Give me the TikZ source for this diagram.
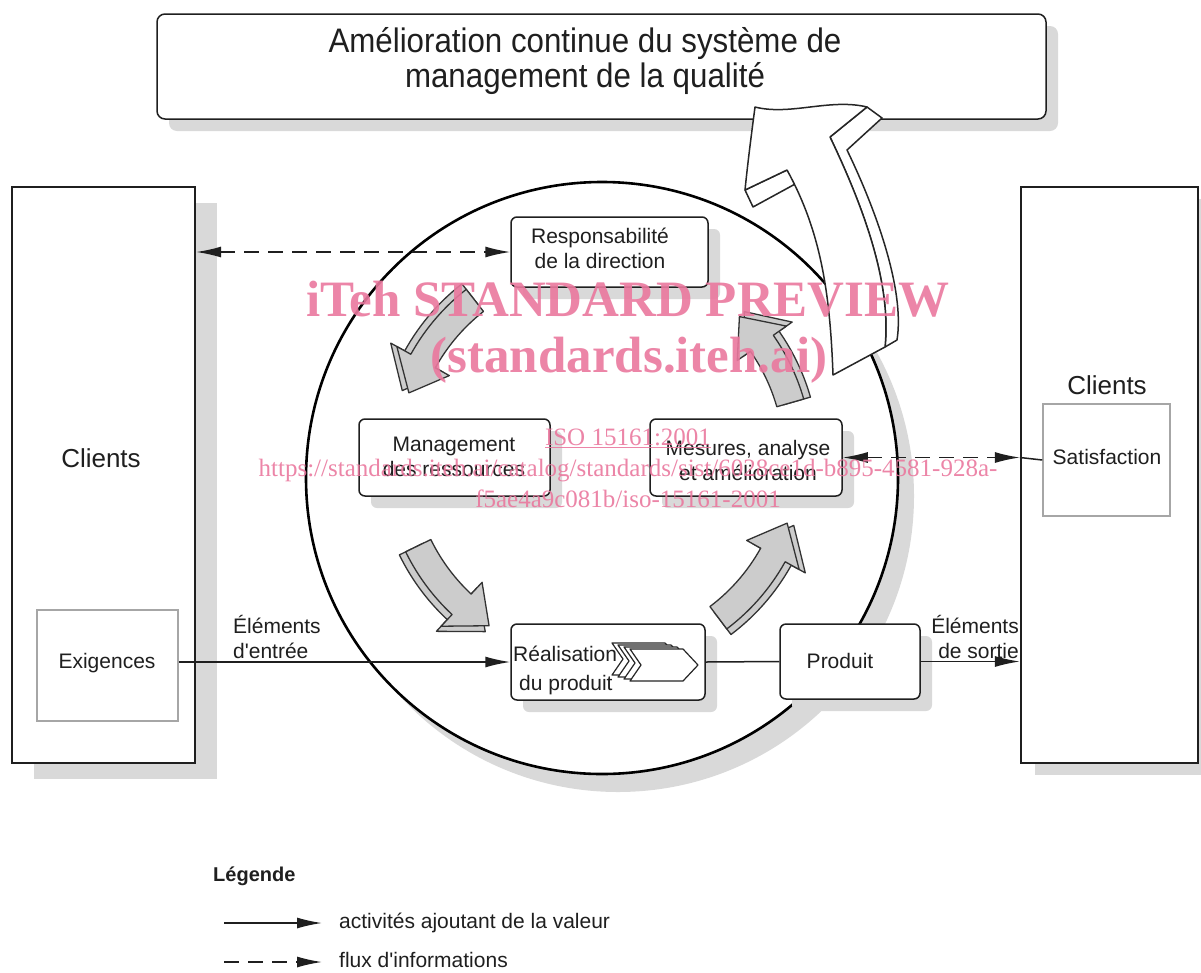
\documentclass[tikz,border=0pt]{standalone}
\usepackage{fontspec}
\setmainfont{Liberation Sans}
\newfontfamily\wmfont{Liberation Serif}
\newfontfamily\titlefont[FakeStretch=0.92]{Liberation Sans}
\usetikzlibrary{arrows.meta,shadows}
\definecolor{shade}{gray}{0.85}
\definecolor{ink}{gray}{0.12}
\definecolor{pinkwm}{RGB}{234,120,158}
\newcommand\garrow[4]{%
  \filldraw[garr] plot[domain=#1:#2,samples=16] ({598+(#4+14)*cos(\x)},{458+(#4+14)*sin(\x)})
   -- ({598+(#4+30)*cos(#2)},{458+(#4+30)*sin(#2)})
   -- ({598+#4*cos(#3)},{458+#4*sin(#3)})
   -- ({598+(#4-30)*cos(#2)},{458+(#4-30)*sin(#2)})
   -- plot[domain=#2:#1,samples=16] ({598+(#4-14)*cos(\x)},{458+(#4-14)*sin(\x)})
   -- cycle;}
\begin{document}
\begin{tikzpicture}[x=1pt,y=-1pt, >={Latex[length=25pt,width=11pt]},
  every node/.style={text=ink, font=\fontsize{21}{25}\selectfont},
  box/.style={draw=ink, line width=1.5pt, fill=white, rounded corners=6pt, inner sep=0pt},
  sbox/.style={box, general shadow={fill=shade, shadow xshift=12pt, shadow yshift=-12pt}},
  clientbox/.style={draw=ink, line width=2.2pt, fill=white, inner sep=0pt},
  subbox/.style={draw=black!35, line width=1.5pt, fill=white, inner sep=0pt},
  txt/.style={inner sep=0pt, align=center},
  act/.style={draw=ink, line width=1.5pt, ->},
  info/.style={draw=ink, line width=1.5pt, dash pattern=on 15pt off 9pt},
  garr/.style={fill=black!20, draw=black!80, line width=1.3pt, line join=round},
  bigarr/.style={fill=white, draw=black!85, line width=1.5pt, line join=round},
  chev/.style={fill=white, draw=black!85, line width=1.2pt, line join=round},
  wm/.style={text=pinkwm, text opacity=0.9, inner sep=0pt, anchor=base}
]
\useasboundingbox (0,0) rectangle (1201,972);

% customer boxes
\node[clientbox, minimum width=183pt, minimum height=576pt,
  general shadow={fill=shade, shadow xshift=22pt, shadow yshift=-16pt}] (CL) at (103.5,475) {};
\node[clientbox, minimum width=177pt, minimum height=576pt,
  general shadow={fill=shade, shadow xshift=14pt, shadow yshift=-12pt}] (CR) at (1109.5,475) {};
\node[subbox, minimum width=141pt, minimum height=111pt] (exig) at (107.5,665.5) {};
\node[subbox, minimum width=127pt, minimum height=112pt] (satis) at (1106.5,460) {};
\node[txt] (exigt) at (107,663) {Exigences};
\node[txt] (satist) at (1107,457) {Satisfaction};
\node[txt, font=\fontsize{26}{30}\selectfont] (clt) at (101,458) {Clients};
\node[txt, font=\fontsize{26}{30}\selectfont] (crt) at (1107,385) {Clients};

% circle
\node[circle, draw=black, line width=2.6pt, fill=white, minimum size=592pt, inner sep=0pt,
  general shadow={fill=shade, shadow xshift=16pt, shadow yshift=-18pt}] (cyc) at (602,478) {};

% process boxes
\node[sbox, minimum width=197pt, minimum height=70pt] (resp) at (609.5,252) {};
\node[sbox, minimum width=191pt, minimum height=77pt] (mgmt) at (454.5,457.5) {};
\node[sbox, minimum width=192pt, minimum height=77pt] (mes) at (746,457.5) {};
\node[sbox, minimum width=194pt, minimum height=76pt] (real) at (608,662) {};
\node[sbox, minimum width=140pt, minimum height=75pt] (prod) at (850,661.5) {};

\node[txt] (respt) at (600,248.5) {Responsabilité\\de la direction};
\node[txt] (mgmtt) at (454,457) {Management\\des ressources};
\node[txt] (mest) at (748,460.5) {Mesures, analyse\\et amélioration};
\node[txt] (prodt) at (840,661) {Produit};
\node[inner sep=0pt, align=left, anchor=west, font=\fontsize{21}{29}\selectfont] (realt) at (513,670) {Réalisation\\\hspace*{6pt}du produit};

% chevron icon
\foreach \d in {18,12,6,0}
  \filldraw[chev, shift={(-\d,-\d/3)}] (630,649) -- (683,649) -- (698,665) -- (683,681) -- (630,681) -- (641,665) -- cycle;

% connectors
\coordinate (infoL) at (resp.west -| CL.east);
\coordinate (infoR) at (mes.east -| CR.west);
\coordinate (inL) at (exig.east |- real.west);
\coordinate (outR) at (prod.east -| CR.west);
\draw[info, <->] (infoL) -- (resp.west);
\draw[info, <->] (mes.east) -- (infoR);
\draw[draw=ink, line width=1.5pt] (infoR) -- (satis.west);
\draw[act] (inL) -- (real.west);
\draw[draw=ink, line width=1.5pt] (real.east) -- (prod.west);
\draw[act] (prod.east) -- (outR);
\node[inner sep=0pt, align=left, anchor=west] (inlab) at (233,637) {Éléments\\d\textquotesingle entrée};
\node[inner sep=0pt, align=right, anchor=east] (outlab) at (1019,637) {Éléments\\de sortie};

% grey cycle arrows
\garrow{232}{209}{199}{207}\garrow{232}{209}{199}{200}
\garrow{154}{133}{123}{207}\garrow{154}{133}{123}{200}
\garrow{53}{29}{19}{207}\garrow{53}{29}{19}{200}
\garrow{344}{325}{315}{207}\garrow{344}{325}{315}{200}

% top box
\node[box, rounded corners=8pt, minimum width=889pt, minimum height=105pt,
  general shadow={fill=shade, shadow xshift=12pt, shadow yshift=-12pt}] (top) at (601.5,66.5) {};
\node[txt, font=\titlefont\fontsize{34}{35}\selectfont] (topt) at (585,61) {Amélioration continue du système de\\management de la qualité};

% big improvement arrow
\filldraw[bigarr] (867,107) -- (882,118) -- (847,150) .. controls (876,210) and (905,290) .. (897,340)
  -- (885,347) .. controls (892,280) and (860,200) .. (830,137) -- cycle;
\filldraw[bigarr] (745,190) -- (753,207) -- (797,183) -- (787,170) -- cycle;
\filldraw[bigarr] (755,107) .. controls (790,116) and (830,98) .. (867,107) -- (830,137)
  .. controls (860,200) and (892,280) .. (885,347) -- (833,375)
  .. controls (830,290) and (820,230) .. (787,170) -- (745,190)
  .. controls (748,160) and (752,130) .. (755,107) -- cycle;

% legend
\node[inner sep=0pt, anchor=west, font=\fontsize{20}{24}\selectfont\bfseries] (leg) at (213,876) {Légende};
\coordinate (l1a) at (224,923); \coordinate (l1b) at (322,923);
\coordinate (l2a) at (224,962); \coordinate (l2b) at (322,962);
\draw[act] (l1a) -- (l1b);
\draw[info, ->] (l2a) -- (l2b);
\node[inner sep=0pt, anchor=west] (l1t) at (339,923) {activités ajoutant de la valeur};
\node[inner sep=0pt, anchor=west] (l2t) at (339,960) {flux d\textquotesingle informations};

% watermark
\node[wm, font=\wmfont\bfseries\fontsize{51}{55}\selectfont] (wm1) at (628,316) {iTeh STANDARD PREVIEW};
\node[wm, font=\wmfont\bfseries\fontsize{51}{55}\selectfont] (wm2) at (629,372) {(standards.iteh.ai)};
\node[wm, font=\wmfont\fontsize{25}{28}\selectfont] (wm3) at (628,445) {\underline{ISO 15161:2001}};
\node[wm, font=\wmfont\fontsize{25}{28}\selectfont] (wm4) at (628,476) {https://standards.iteh.ai/catalog/standards/sist/6028ce1d-b895-4581-928a-};
\node[wm, font=\wmfont\fontsize{25}{28}\selectfont] (wm5) at (628,507) {f5ae4a9c081b/iso-15161-2001};
\end{tikzpicture}
\end{document}
